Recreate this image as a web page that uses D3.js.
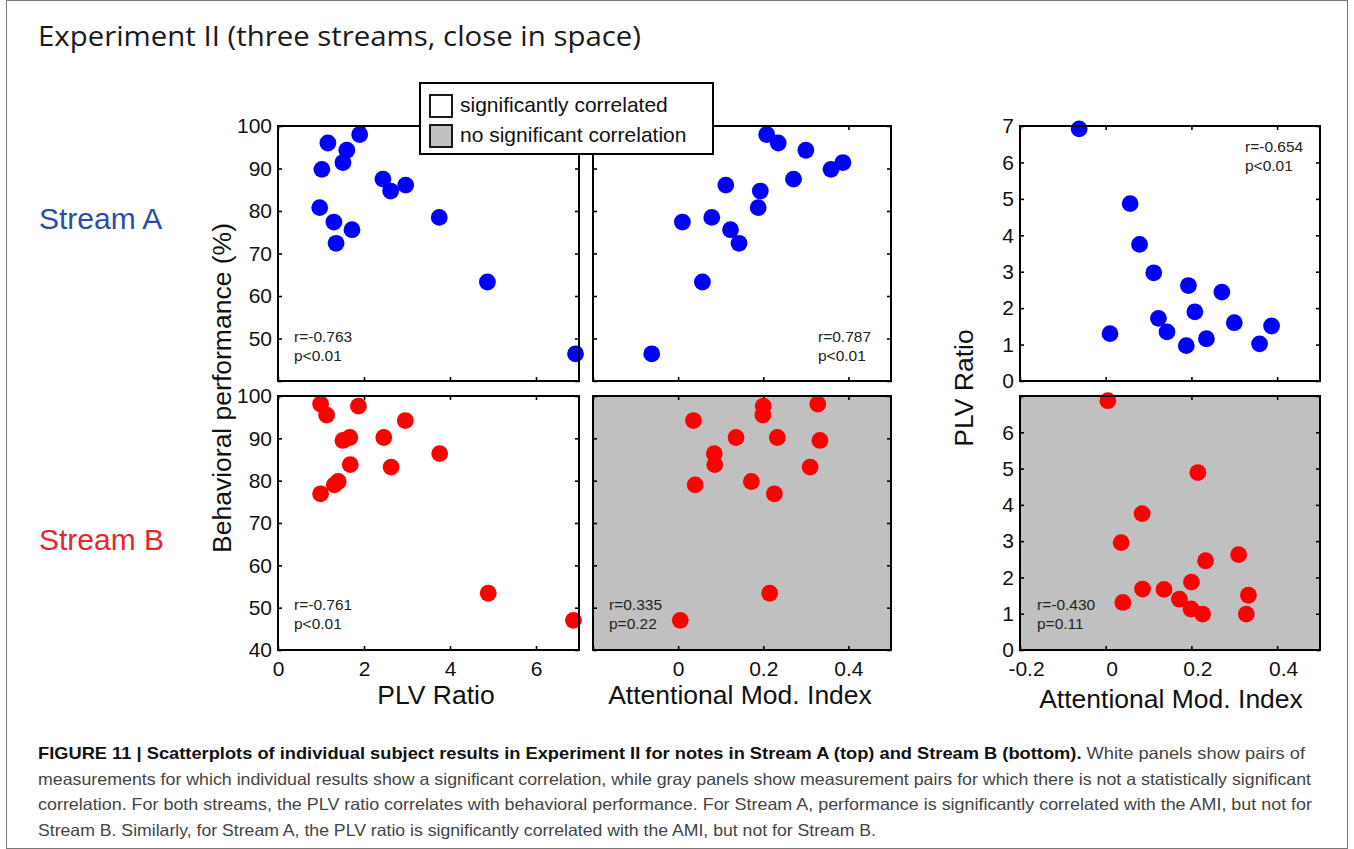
<!DOCTYPE html>
<html>
<head>
<meta charset="utf-8">
<script src="https://cdn.jsdelivr.net/npm/d3@7"></script>
<style>
  html, body { margin: 0; padding: 0; background: #fff; }
  svg { display: block; }
</style>
</head>
<body>
<svg id="fig" width="1354" height="849"></svg>
<script>
// Per-subject results, Stream A (blue)
const perfA = [98.0, 96.0, 94.3, 91.4, 89.8, 87.5, 86.1, 84.7, 80.8, 78.5, 77.4, 75.6, 72.4, 63.3, 46.4];
const plvA  = [1.90, 1.16, 1.60, 1.51, 1.02, 2.44, 2.97, 2.62, 0.97, 3.75, 1.30, 1.72, 1.35, 4.87, 6.92];
const amiA  = [0.208, 0.235, 0.300, 0.387, 0.359, 0.271, 0.112, 0.193, 0.188, 0.079, 0.010, 0.123, 0.143, 0.057, -0.062];

// Per-subject results, Stream B (red)
const perfB = [47.0, 53.4, 98.1, 97.6, 95.5, 94.2, 90.2, 90.2, 89.5, 86.4, 83.8, 83.2, 79.0, 79.8, 76.9];
const plvB  = [6.87, 4.89, 0.99, 1.87, 1.13, 2.96, 1.67, 2.46, 1.51, 3.76, 1.68, 2.63, 1.31, 1.40, 0.99];
const amiB  = [0.005, 0.215, 0.328, 0.200, 0.199, 0.036, 0.136, 0.233, 0.333, 0.085, 0.086, 0.310, 0.040, 0.172, 0.226];

// Axis domains and ticks
const perfDomain = [40, 100];
const plvXDomain = [0, 7];
const amiDomain  = [-0.2, 0.5];
const plvYDomain = [0, 7];
const perfTicks  = [40, 50, 60, 70, 80, 90, 100];
const plvXTicks  = [0, 2, 4, 6];
const amiTicks   = [-0.2, 0, 0.2, 0.4];
const plvYTicks  = [0, 1, 2, 3, 4, 5, 6, 7];

// Correlation statistics per panel
const statsA = [["r=-0.763", "p<0.01"], ["r=0.787", "p<0.01"], ["r=-0.654", "p<0.01"]];
const statsB = [["r=-0.761", "p<0.01"], ["r=0.335", "p=0.22"], ["r=-0.430", "p=0.11"]];
const significantA = [true, true, true];
const significantB = [true, false, false];

const streamNames  = ["Stream A", "Stream B"];
const legendLabels = ["significantly correlated", "no significant correlation"];
const titleText = "Experiment II (three streams, close in space)";
const captionLines = [
  [["FIGURE 11 | Scatterplots of individual subject results in Experiment II for notes in Stream A (top) and Stream B (bottom).", true], [" White panels show pairs of", false]],
  [["measurements for which individual results show a significant correlation, while gray panels show measurement pairs for which there is not a statistically significant", false]],
  [["correlation. For both streams, the PLV ratio correlates with behavioral performance. For Stream A, performance is significantly correlated with the AMI, but not for", false]],
  [["Stream B. Similarly, for Stream A, the PLV ratio is significantly correlated with the AMI, but not for Stream B.", false]]
];

const svg = d3.select("#fig");
const FONT = "'Liberation Sans', Arial, Helvetica, sans-serif";
const GRAY = "#c0c0c0";

// frame
svg.append("rect").attr("x", 6.5).attr("y", 0.5).attr("width", 1341).attr("height", 848)
  .attr("fill", "none").attr("stroke", "#777").attr("stroke-width", 1);

// title
svg.append("text").attr("x", 38).attr("y", 46)
  .attr("font-family", "'Open Sans', 'Noto Sans', sans-serif").attr("font-size", 28)
  .attr("fill", "#1a1a1a").attr("textLength", 603).attr("lengthAdjust", "spacingAndGlyphs")
  .text(titleText);

// layout
const cols = [{x0: 278, x1: 579}, {x0: 593, x1: 891}, {x0: 1020, x1: 1320}];
const rows = [{y0: 126, y1: 381}, {y0: 396, y1: 650}];

function panel(opts) {
  const {col, row, xDomain, yDomain, xTickVals, yTickVals, xLabelFmt, yLabelFmt,
         xs, ys, color, stats, statsPos, fill, xLabelShift = 0} = opts;
  const c = cols[col], r = rows[row];
  const x = d3.scaleLinear().domain(xDomain).range([c.x0, c.x1]);
  const y = d3.scaleLinear().domain(yDomain).range([r.y1, r.y0]);
  const g = svg.append("g");

  g.append("rect").attr("x", c.x0).attr("y", r.y0)
    .attr("width", c.x1 - c.x0).attr("height", r.y1 - r.y0)
    .attr("fill", fill);

  // inward ticks on all four sides
  const tick = 4;
  const axes = [
    {ax: d3.axisBottom(x).tickValues(xTickVals).tickSizeInner(-tick).tickSizeOuter(0).tickPadding(11)
        .tickFormat(xLabelFmt || (() => "")), tr: `translate(0,${r.y1})`, dx: xLabelShift},
    {ax: d3.axisTop(x).tickValues(xTickVals).tickSizeInner(-tick).tickSizeOuter(0).tickFormat(() => ""),
        tr: `translate(0,${r.y0})`, dx: 0},
    {ax: d3.axisLeft(y).tickValues(yTickVals).tickSizeInner(-tick).tickSizeOuter(0).tickPadding(6)
        .tickFormat(yLabelFmt || (() => "")), tr: `translate(${c.x0},0)`, dx: 0},
    {ax: d3.axisRight(y).tickValues(yTickVals).tickSizeInner(-tick).tickSizeOuter(0).tickFormat(() => ""),
        tr: `translate(${c.x1},0)`, dx: 0}
  ];
  axes.forEach(a => {
    const ag = g.append("g").attr("transform", a.tr).call(a.ax);
    ag.select(".domain").remove();
    ag.selectAll(".tick line").attr("stroke", "#000").attr("stroke-width", 1.6);
    ag.selectAll(".tick text").attr("font-family", FONT).attr("font-size", 21).attr("fill", "#111")
      .attr("dx", a.dx);
  });

  // points
  const pts = xs.map((v, i) => [v, ys[i]]);
  g.selectAll("circle.pt").data(pts).join("circle").attr("class", "pt")
    .attr("cx", d => x(d[0])).attr("cy", d => y(d[1])).attr("r", 8.4)
    .attr("fill", color);

  // box outline
  g.append("rect").attr("x", c.x0).attr("y", r.y0)
    .attr("width", c.x1 - c.x0).attr("height", r.y1 - r.y0)
    .attr("fill", "none").attr("stroke", "#000").attr("stroke-width", 2);

  // stats
  const t = g.append("text").attr("font-family", FONT).attr("font-size", 15.5).attr("fill", "#222");
  stats.forEach((s, i) => {
    t.append("tspan").attr("x", statsPos[0]).attr("y", statsPos[1] + i * 19).text(s);
  });
}

const fmtNum = d => String(d);
const blank = () => "";

// Stream A row
panel({col: 0, row: 0, xDomain: plvXDomain, yDomain: perfDomain, xTickVals: plvXTicks, yTickVals: perfTicks,
  xLabelFmt: blank, yLabelFmt: d => d === 40 ? "" : fmtNum(d),
  xs: plvA, ys: perfA, color: "#0000ff", stats: statsA[0], statsPos: [294, 342],
  fill: significantA[0] ? "#fff" : GRAY});
panel({col: 1, row: 0, xDomain: amiDomain, yDomain: perfDomain, xTickVals: amiTicks, yTickVals: perfTicks,
  xLabelFmt: blank, yLabelFmt: blank,
  xs: amiA, ys: perfA, color: "#0000ff", stats: statsA[1], statsPos: [818, 342],
  fill: significantA[1] ? "#fff" : GRAY});
panel({col: 2, row: 0, xDomain: amiDomain, yDomain: plvYDomain, xTickVals: amiTicks, yTickVals: plvYTicks,
  xLabelFmt: blank, yLabelFmt: fmtNum,
  xs: amiA, ys: plvA, color: "#0000ff", stats: statsA[2], statsPos: [1245, 152],
  fill: significantA[2] ? "#fff" : GRAY});

// Stream B row
panel({col: 0, row: 1, xDomain: plvXDomain, yDomain: perfDomain, xTickVals: plvXTicks, yTickVals: perfTicks,
  xLabelFmt: fmtNum, yLabelFmt: fmtNum,
  xs: plvB, ys: perfB, color: "#ff0000", stats: statsB[0], statsPos: [294, 610],
  fill: significantB[0] ? "#fff" : GRAY});
panel({col: 1, row: 1, xDomain: amiDomain, yDomain: perfDomain, xTickVals: amiTicks, yTickVals: perfTicks,
  xLabelFmt: d => d < -0.1 ? "" : fmtNum(d), yLabelFmt: blank,
  xs: amiB, ys: perfB, color: "#ff0000", stats: statsB[1], statsPos: [609, 610],
  fill: significantB[1] ? "#fff" : GRAY});
panel({col: 2, row: 1, xDomain: amiDomain, yDomain: plvYDomain, xTickVals: amiTicks, yTickVals: plvYTicks,
  xLabelFmt: fmtNum, yLabelFmt: d => d === 7 ? "" : fmtNum(d), xLabelShift: 6,
  xs: amiB, ys: plvB, color: "#ff0000", stats: statsB[2], statsPos: [1037, 610],
  fill: significantB[2] ? "#fff" : GRAY});

// axis titles
const axisTitle = (x, y, txt, rot) => svg.append("text")
  .attr("transform", `translate(${x},${y})` + (rot ? " rotate(-90)" : ""))
  .attr("text-anchor", "middle").attr("font-family", FONT).attr("font-size", 26.5)
  .attr("fill", "#111").text(txt);
axisTitle(436, 704, "PLV Ratio");
axisTitle(740, 704, "Attentional Mod. Index");
axisTitle(1171, 708, "Attentional Mod. Index");
axisTitle(231, 388, "Behavioral performance (%)", true);
axisTitle(973, 388, "PLV Ratio", true);

// stream labels
svg.append("text").attr("x", 39).attr("y", 229).attr("font-family", FONT).attr("font-size", 30)
  .attr("fill", "#2b4ea5").text(streamNames[0]);
svg.append("text").attr("x", 39).attr("y", 550).attr("font-family", FONT).attr("font-size", 30)
  .attr("fill", "#e8252a").text(streamNames[1]);

// legend
const lg = svg.append("g");
lg.append("rect").attr("x", 420).attr("y", 83).attr("width", 293).attr("height", 71)
  .attr("fill", "#fff").attr("stroke", "#000").attr("stroke-width", 2);
[["#fff", 95], [GRAY, 125]].forEach((s, i) => {
  lg.append("rect").attr("x", 430).attr("y", s[1]).attr("width", 22).attr("height", 22)
    .attr("fill", s[0]).attr("stroke", "#000").attr("stroke-width", 1.8);
  lg.append("text").attr("x", 460).attr("y", s[1] + 17).attr("font-family", FONT)
    .attr("font-size", 21).attr("fill", "#111").text(legendLabels[i]);
});

// caption
const capWidths = [1267, 1273, 1274, 838];
captionLines.forEach((line, i) => {
  const t = svg.append("text").attr("x", 38).attr("y", 759 + i * 25.7)
    .attr("font-family", FONT).attr("font-size", 16.5)
    .attr("textLength", capWidths[i]).attr("lengthAdjust", "spacingAndGlyphs");
  line.forEach(seg => {
    t.append("tspan").attr("font-weight", seg[1] ? "bold" : "normal")
      .attr("fill", seg[1] ? "#111" : "#444").text(seg[0]);
  });
});
</script>
</body>
</html>
